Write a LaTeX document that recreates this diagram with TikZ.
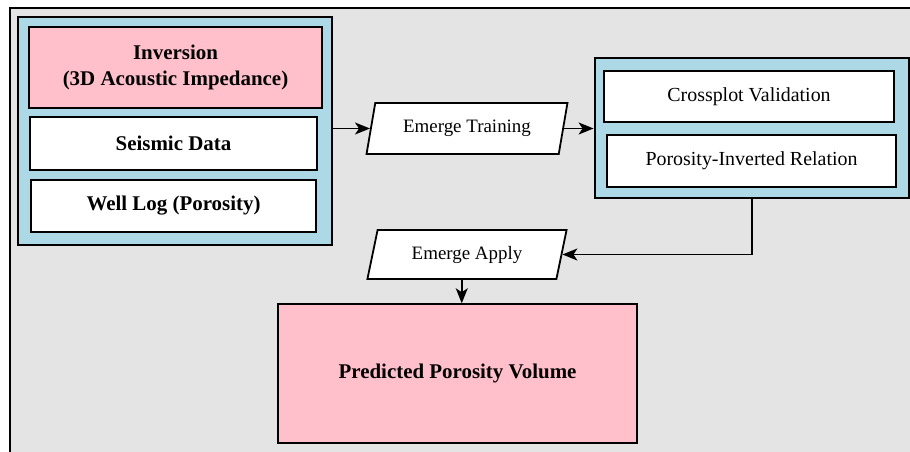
\documentclass[tikz,border=0pt]{standalone}
\usepackage{fontspec}
\setmainfont{Liberation Serif}
\usetikzlibrary{shapes.geometric, arrows.meta, calc}

\definecolor{panelgray}{HTML}{E4E4E4}
\definecolor{groupblue}{HTML}{ADD8E6}
\definecolor{resultpink}{HTML}{FFC0CB}

\begin{document}
\begin{tikzpicture}[x=1bp, y=-1bp, >={Stealth[length=15bp, width=12bp, inset=4bp]},
    box/.style={draw, line width=2bp, fill=white, inner sep=0pt,
        font=\fontsize{20}{24}\selectfont},
    boldbox/.style={box, font=\fontsize{21}{26}\selectfont\bfseries},
    group/.style={draw, line width=2bp, fill=groupblue, inner sep=0pt},
    slant/.style={trapezium, trapezium left angle=70, trapezium right angle=110,
        trapezium stretches=true, draw, line width=1.8bp, fill=white, inner sep=0pt,
        font=\fontsize{19}{22}\selectfont},
    flow/.style={->, line width=1.8bp}]

    \useasboundingbox (0,0) rectangle (910,452);
    \draw[fill=panelgray, line width=1.2bp] (10,8) rectangle (930,470);

    % input group
    \node[group, minimum width=316, minimum height=228] (inputs) at (175,131) {};
    \node[boldbox, fill=resultpink, align=center, minimum width=295, minimum height=81] (inv) at (175.5,67.5)
        {Inversion\\(3D Acoustic Impedance)};
    \node[boldbox, minimum width=289, minimum height=53] (seis) at (173.5,143.5) {Seismic Data};
    \node[boldbox, minimum width=287, minimum height=52] (well) at (173.5,206) {Well Log (Porosity)};

    \node[slant, minimum width=202, minimum height=51] (train) at (467,128.5) {Emerge Training};

    % validation group
    \node[group, minimum width=316, minimum height=140] (checks) at (752,128) {};
    \node[box, minimum width=292, minimum height=51] (cross) at (749,96.5) {Crossplot Validation};
    \node[box, minimum width=291, minimum height=52] (rel) at (751.5,161) {Porosity-Inverted Relation};

    \node[slant, minimum width=200, minimum height=49] (apply) at (467,254.5) {Emerge Apply};
    \node[boldbox, fill=resultpink, minimum width=361, minimum height=139] (pred) at (457.5,373.5)
        {Predicted Porosity Volume};

    \coordinate (applyfoot) at ($(apply.bottom left corner)!0.5!(apply.bottom right corner)$);

    \draw[flow] (inputs.east |- train.west) -- (train.west);
    \draw[flow] (train.east) -- (checks.west |- train.east);
    \draw[flow] (checks.south) -- (checks.south |- apply.east) -- (apply.east);
    \draw[flow] (applyfoot) -- (applyfoot |- pred.north);
\end{tikzpicture}
\end{document}
